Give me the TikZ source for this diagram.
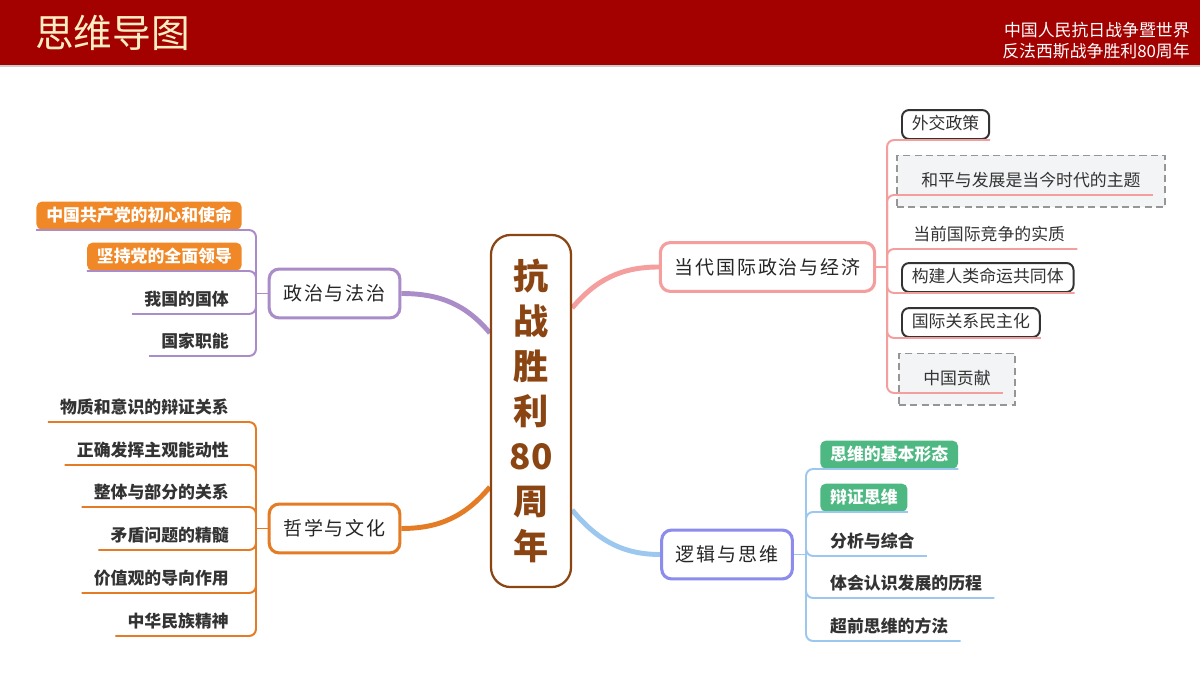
\documentclass[tikz,border=0pt]{standalone}
\usepackage{fontspec}
\setmainfont{Noto Sans CJK SC}
\newfontfamily\brfont[LetterSpace=10]{Noto Sans CJK SC}
\usepackage{xcolor}
\usetikzlibrary{positioning,calc,fit,backgrounds}
\definecolor{hdred}{RGB}{163,0,0}
\definecolor{gold}{RGB}{255,238,196}
\definecolor{brn}{RGB}{139,69,19}
\definecolor{ink}{RGB}{51,51,51}
\definecolor{purp}{RGB}{170,140,200}
\definecolor{orng}{RGB}{228,124,38}
\definecolor{obox}{RGB}{240,136,40}
\definecolor{pinkl}{RGB}{244,158,158}
\definecolor{peri}{RGB}{140,140,236}
\definecolor{skyl}{RGB}{156,200,240}
\definecolor{grn}{RGB}{78,184,130}
\definecolor{frm}{RGB}{150,150,150}
\definecolor{frmbg}{RGB}{243,244,246}
\tikzset{
  branch/.style={draw,line width=2.2pt,rounded corners=7pt,fill=white,text=black!85,
                 font=\brfont\fontsize{13.5}{16}\selectfont,minimum height=1.22cm,inner xsep=10pt},
  leaf/.style={font=\fontsize{12}{14}\selectfont,text=ink,text height=0.88em,text depth=0.12em,
               inner xsep=8.5pt,inner ysep=4.6pt},
  bleaf/.style={leaf,font=\fontsize{12}{14}\selectfont\bfseries},
  tag/.style={bleaf,fill=#1,text=white,rounded corners=4pt,inner xsep=7pt,inner ysep=5pt},
  dbox/.style={leaf,draw=black!80,line width=1.4pt,rounded corners=5pt,inner xsep=7pt,inner ysep=5.3pt},
  summframe/.style={draw=frm,line width=1.4pt,dash pattern=on 5pt off 3pt,fill=frmbg,inner sep=8.5pt},
  twig/.style={line width=1.4pt,rounded corners=5pt},
  limb/.style={line width=3.5pt},
}
\begin{document}
\begin{tikzpicture}[x=0.025cm,y=-0.025cm]
  \begin{scope}[on background layer]
    \fill[white] (0,0) rectangle (1200,675);
  \end{scope}
  \useasboundingbox (0,0) rectangle (1200,675);
  % ===== header =====
  \fill[hdred] (0,0) rectangle (1200,65);
  \draw[gray!40,line width=0.8pt] (0,66)--(1200,66);
  \node[anchor=west,inner sep=0pt,text=gold,font=\fontsize{27.5}{30}\selectfont] (ttl) at (35,33){思维导图};
  \node[anchor=east,inner sep=0pt,text=white,align=right,font=\fontsize{12}{15}\selectfont] (sub) at (1190,41)
       {中国人民抗日战争暨世界\\反法西斯战争胜利80周年};

  % ===== centre + four branches =====
  \node[draw=brn,line width=1.6pt,rounded corners=14pt,minimum width=2cm,minimum height=8.8cm,
        text=brn,align=center,font=\fontsize{25}{32}\selectfont\bfseries] (cen) at (531,411)
       {抗\\战\\胜\\利\\80\\周\\年};
  \node[branch,draw=purp] (zz) at (334.5,293.5){政治与法治};
  \node[branch,draw=orng] (zx) at (334.5,528.5){哲学与文化};
  \node[branch,draw=pinkl] (gj) at (767.5,267){当代国际政治与经济};
  \node[branch,draw=peri] (lj) at (727,554.5){逻辑与思维};
  \coordinate (cL1) at (cen.west |- 0,333);
  \coordinate (cL2) at (cen.west |- 0,487);
  \coordinate (cR1) at (cen.east |- 0,308);
  \coordinate (cR2) at (cen.east |- 0,510);
  \begin{scope}[on background layer]
    \draw[limb,purp] (zz.east) to[out=0,in=130] (cL1);
    \draw[limb,orng] (zx.east) to[out=0,in=-130] (cL2);
    \draw[limb,pinkl] (cR1) to[out=50,in=180] (gj.west);
    \draw[limb,skyl] (cR2) to[out=-50,in=180] (lj.west);
  \end{scope}
  % spine junctions
  \coordinate (jz) at (256,0 |- zz.west);
  \coordinate (jx) at (256,0 |- zx.west);
  \coordinate (jg) at (887,0 |- gj.east);
  \coordinate (jl) at (806,0 |- lj.east);

  % ===== 政治与法治 =====
  \node[tag=obox,anchor=south east] (p1) at (242,230){中国共产党的初心和使命};
  \node[tag=obox,anchor=south east] (p2) at (242,271){坚持党的全面领导};
  \node[bleaf,anchor=south east] (p3) at (241,314){我国的国体};
  \node[bleaf,anchor=south east] (p4) at (241,356){国家职能};
  \draw[twig,purp] (jz) -- (zz.west);
  \draw[twig,purp] (p1.south west) -- (p1.south -| jz) -- (jz);
  \draw[twig,purp] (p2.south west) -- (p2.south -| jz) -- (jz);
  \draw[twig,purp] (p3.south west) -- (p3.south -| jz) -- (jz);
  \draw[twig,purp] (p4.south west) -- (p4.south -| jz) -- (jz);

  % ===== 哲学与文化 =====
  \node[bleaf,anchor=south east] (f1) at (241,422){物质和意识的辩证关系};
  \node[bleaf,anchor=south east] (f2) at (241,465){正确发挥主观能动性};
  \node[bleaf,anchor=south east] (f3) at (241,507){整体与部分的关系};
  \node[bleaf,anchor=south east] (f4) at (241,550){矛盾问题的精髓};
  \node[bleaf,anchor=south east] (f5) at (241,593){价值观的导向作用};
  \node[bleaf,anchor=south east] (f6) at (241,636){中华民族精神};
  \draw[twig,orng] (jx) -- (zx.west);
  \draw[twig,orng] (f1.south west) -- (f1.south -| jx) -- (jx);
  \draw[twig,orng] (f2.south west) -- (f2.south -| jx) -- (jx);
  \draw[twig,orng] (f3.south west) -- (f3.south -| jx) -- (jx);
  \draw[twig,orng] (f4.south west) -- (f4.south -| jx) -- (jx);
  \draw[twig,orng] (f5.south west) -- (f5.south -| jx) -- (jx);
  \draw[twig,orng] (f6.south west) -- (f6.south -| jx) -- (jx);

  % ===== 当代国际政治与经济 =====
  \node[dbox,anchor=south west] (g1) at (901,140){外交政策};
  \node[leaf,anchor=south west] (g2) at (909,195){和平与发展是当今时代的主题};
  \node[leaf,anchor=south west] (g3) at (901,249){当前国际竞争的实质};
  \node[dbox,anchor=south west] (g4) at (901,293){构建人类命运共同体};
  \node[dbox,anchor=south west] (g5) at (901,338){国际关系民主化};
  \node[leaf,anchor=south west] (g6) at (911,393){中国贡献};
  \begin{scope}[on background layer]
    \node[summframe,fit=(g2)] (g2f){};
    \node[summframe,fit=(g6)] (g6f){};
  \end{scope}
  \draw[twig,pinkl] (gj.east) -- (jg);
  \draw[twig,pinkl] (g1.south east) -- (g1.south -| jg) -- (jg);
  \draw[twig,pinkl] (g2.south east) -- (g2.south -| jg) -- (jg);
  \draw[twig,pinkl] (g3.south east) -- (g3.south -| jg) -- (jg);
  \draw[twig,pinkl] (g4.south east) -- (g4.south -| jg) -- (jg);
  \draw[twig,pinkl] (g5.south east) -- (g5.south -| jg) -- (jg);
  \draw[twig,pinkl] (g6.south east) -- (g6.south -| jg) -- (jg);

  % ===== 逻辑与思维 =====
  \node[tag=grn,anchor=south west] (s1) at (820,469){思维的基本形态};
  \node[tag=grn,anchor=south west] (s2) at (820,512){辩证思维};
  \node[bleaf,anchor=south west] (s3) at (818,556){分析与综合};
  \node[bleaf,anchor=south west] (s4) at (818,598){体会认识发展的历程};
  \node[bleaf,anchor=south west] (s5) at (818,641){超前思维的方法};
  \draw[twig,skyl] (lj.east) -- (jl);
  \draw[twig,skyl] (s1.south east) -- (s1.south -| jl) -- (jl);
  \draw[twig,skyl] (s2.south east) -- (s2.south -| jl) -- (jl);
  \draw[twig,skyl] (s3.south east) -- (s3.south -| jl) -- (jl);
  \draw[twig,skyl] (s4.south east) -- (s4.south -| jl) -- (jl);
  \draw[twig,skyl] (s5.south east) -- (s5.south -| jl) -- (jl);
\end{tikzpicture}
\end{document}
